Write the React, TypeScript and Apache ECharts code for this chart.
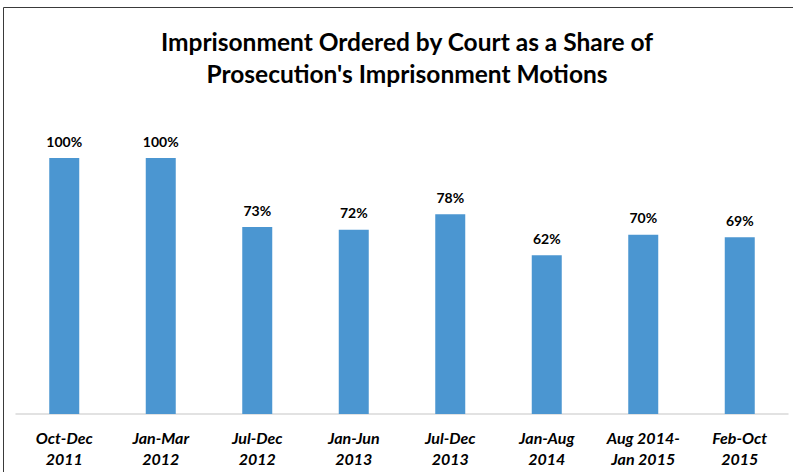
import React, { useEffect, useRef } from "react";
import * as echarts from "echarts";

const categories = [
  "Oct-Dec\n2011",
  "Jan-Mar\n2012",
  "Jul-Dec\n2012",
  "Jan-Jun\n2013",
  "Jul-Dec\n2013",
  "Jan-Aug\n2014",
  "Aug 2014-\nJan 2015",
  "Feb-Oct\n2015",
];
const shares = [100, 100, 73, 72, 78, 62, 70, 69];
const titleText = "Imprisonment Ordered by Court as a Share of\nProsecution's Imprisonment Motions";

export default function App() {
  const ref = useRef<HTMLDivElement>(null);
  useEffect(() => {
    if (!ref.current) return;
    const chart = echarts.init(ref.current, null, { renderer: "svg" });
    chart.setOption({
      animation: false,
      backgroundColor: "#ffffff",
      title: {
        text: titleText,
        left: 402,
        textAlign: "center",
        top: 21,
        textStyle: {
          fontFamily: "Lato",
          fontWeight: "bold",
          fontSize: 24.5,
          lineHeight: 31.5,
          color: "#000000",
        },
      },
      graphic: [
        { type: "line", shape: { x1: 3.5, y1: 7.5, x2: 793, y2: 7.5 }, style: { stroke: "#3a3a3a", lineWidth: 1 } },
        { type: "line", shape: { x1: 3.5, y1: 7.5, x2: 3.5, y2: 472 }, style: { stroke: "#3a3a3a", lineWidth: 1 } },
      ],
      grid: { left: 16, right: 5, top: 158, bottom: 58, containLabel: false },
      xAxis: {
        type: "category",
        data: categories,
        axisLine: { show: true, lineStyle: { color: "#d9d9d9", width: 1.5 } },
        axisTick: { show: false },
        axisLabel: {
          interval: 0,
          margin: 13,
          fontFamily: "Lato",
          fontWeight: "bold",
          fontStyle: "italic",
          fontSize: 16,
          lineHeight: 21,
          color: "#000000",
        },
      },
      yAxis: {
        type: "value",
        min: 0,
        max: 100,
        show: false,
        splitLine: { show: false },
      },
      series: [
        {
          type: "bar",
          data: shares,
          barWidth: 30,
          itemStyle: { color: "#4B96D1" },
          label: {
            show: true,
            position: "top",
            distance: 10,
            formatter: (p: any) => p.value + "%",
            fontFamily: "Lato",
            fontWeight: "bold",
            fontSize: 14,
            color: "#000000",
          },
        },
      ],
    });
    return () => chart.dispose();
  }, []);
  return (
    <div
      ref={ref}
      style={{ position: "fixed", left: 0, top: 0, width: 793, height: 472 }}
    />
  );
}
